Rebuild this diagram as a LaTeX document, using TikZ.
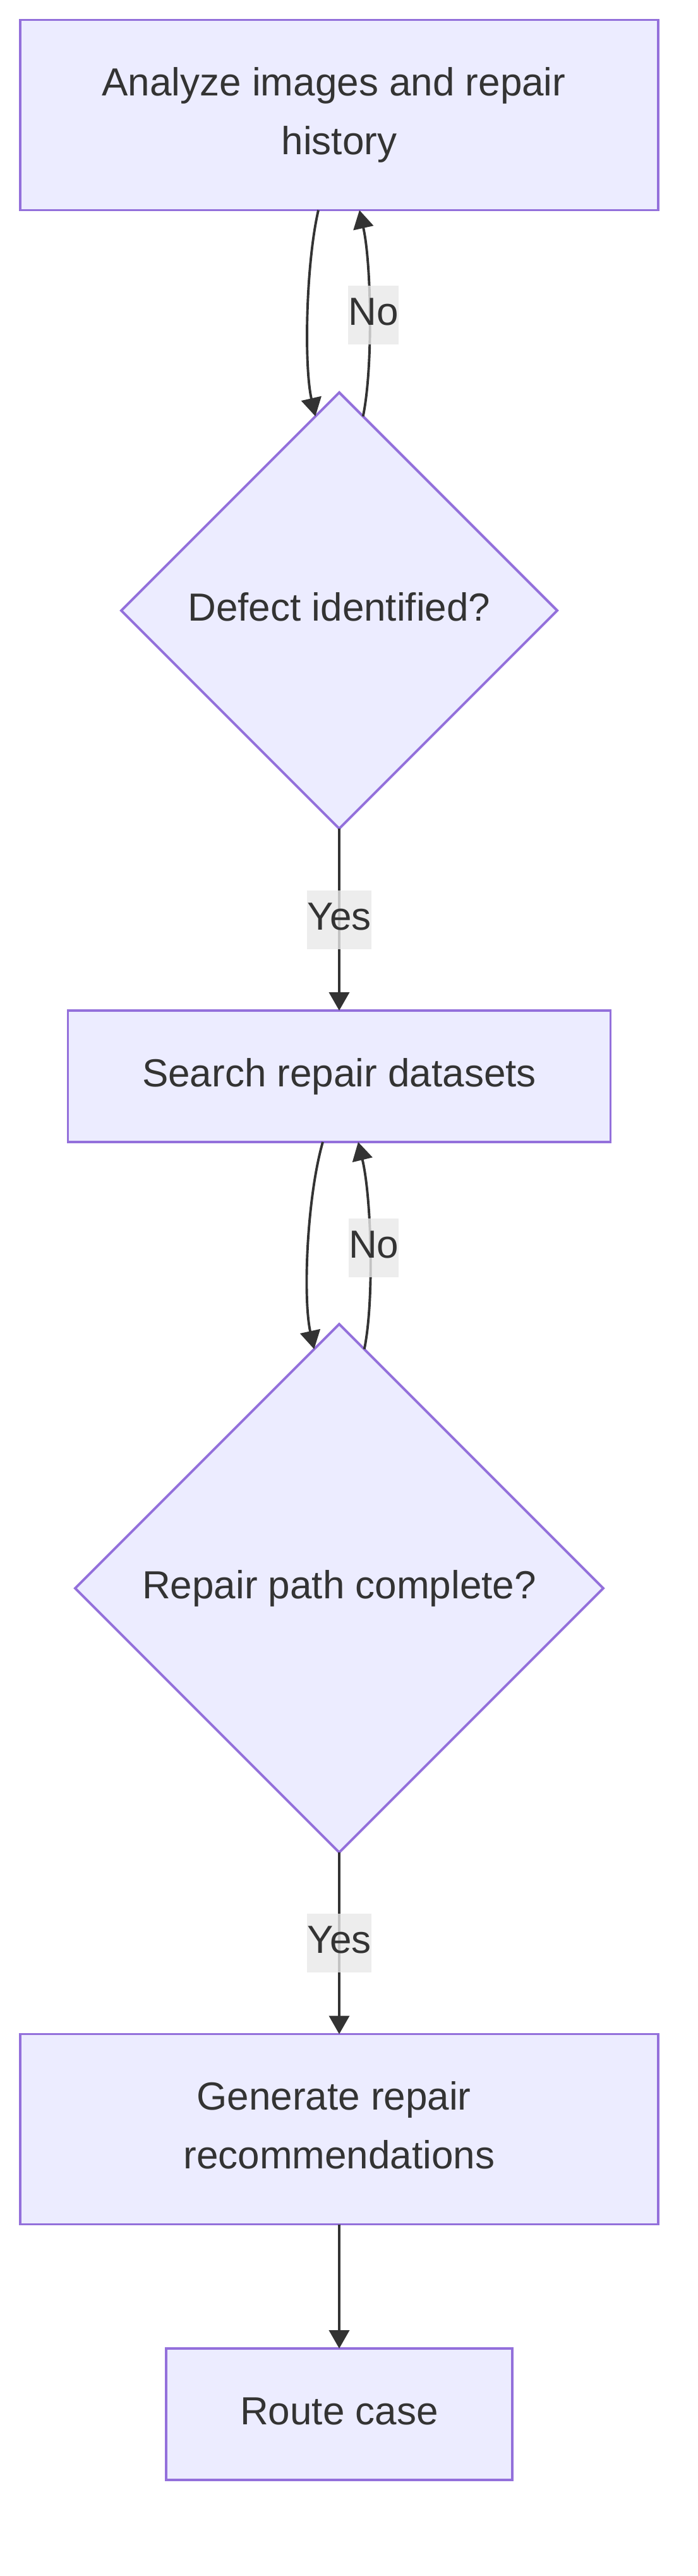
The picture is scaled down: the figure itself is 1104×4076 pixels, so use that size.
\documentclass[tikz,border=0pt]{standalone}
\usepackage{fontspec}
\setmainfont{Liberation Sans}
\usetikzlibrary{shapes.geometric,arrows.meta,calc}
\definecolor{nodefill}{HTML}{ECECFF}
\definecolor{nodeline}{HTML}{9370DB}
\definecolor{ink}{HTML}{333333}
\definecolor{lblbg}{HTML}{E8E8E8}
\newcommand{\mystrut}{\rule[-14pt]{0pt}{60pt}}
\begin{document}
\begin{tikzpicture}[x=1pt,y=-1pt,
  every node/.style={font=\fontsize{62}{93}\selectfont, text=ink},
  procbox/.style={rectangle, draw=nodeline, fill=nodefill, line width=3.9pt, outer sep=0pt, inner sep=0pt, align=center},
  decide/.style={diamond, aspect=1, draw=nodeline, fill=nodefill, line width=3.9pt, outer sep=0pt, inner sep=0pt},
  flow/.style={draw=ink, line width=3.9pt, -{Triangle[length=29pt,width=32pt]}},
  edgelbl/.style={fill=lblbg, fill opacity=0.8, text opacity=1, inner xsep=0pt, inner ysep=0pt, minimum height=93pt}
]
\useasboundingbox (0,0) rectangle (1104,4076);

\node[procbox, minimum width=1010pt, minimum height=301pt] (b1) at (537,182) {\mystrut Analyze images and repair\hspace*{17pt}\\\mystrut history};
\node[decide, minimum width=690pt, minimum height=690pt] (d1) at (537,966) {\mystrut Defect identified?};
\node[procbox, minimum width=859pt, minimum height=208pt] (b2) at (537,1703) {\mystrut Search repair datasets};
\node[decide, minimum width=836pt, minimum height=836pt] (d2) at (537,2513) {\mystrut Repair path complete?};
\node[procbox, minimum width=1010pt, minimum height=301pt] (b3) at (537,3369) {\mystrut Generate repair\hspace*{17pt}\\\mystrut recommendations};
\node[procbox, minimum width=548pt, minimum height=208pt] (b4) at (537,3820) {\mystrut Route case};

\draw[flow] ($(b1.south)+(-33,0)$) .. controls +(-20,87) and +(-18,-79) .. (d1.97);
\draw[flow] (d1.83) .. controls +(16,-77) and +(19,85) .. ($(b1.south)+(32,0)$) node[edgelbl, pos=0.5, xshift=6pt] {\mystrut No};
\draw[flow] (d1.south) -- (b2.north) node[edgelbl, midway] {\mystrut Yes};
\draw[flow] ($(b2.south)+(-26,0)$) .. controls +(-25,87) and +(-18,-82) .. (d2.96);
\draw[flow] (d2.84) .. controls +(16,-78) and +(21,87) .. ($(b2.south)+(30,0)$) node[edgelbl, pos=0.5, xshift=6pt] {\mystrut No};
\draw[flow] (d2.south) -- (b3.north) node[edgelbl, midway] {\mystrut Yes};
\draw[flow] (b3.south) -- (b4.north);
\end{tikzpicture}
\end{document}
